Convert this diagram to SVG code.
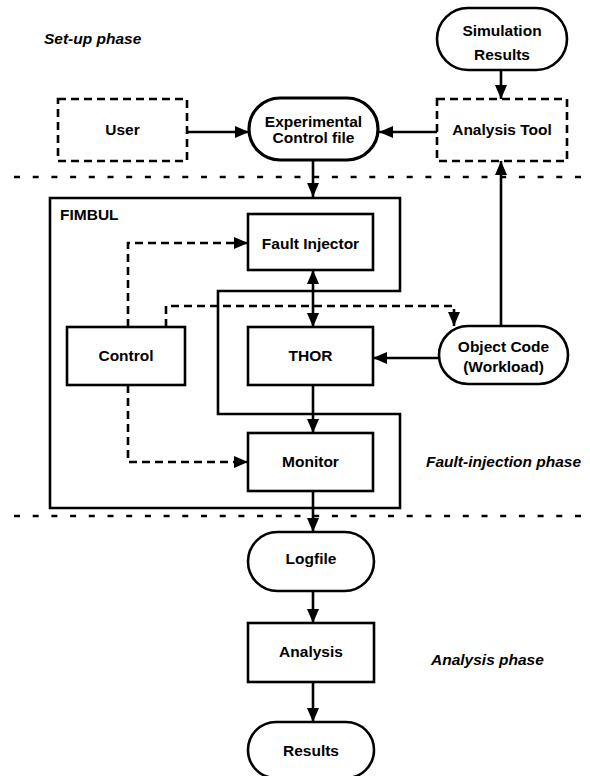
<svg xmlns="http://www.w3.org/2000/svg" width="590" height="776" viewBox="0 0 590 776">
<defs>
<marker id="ah" markerWidth="14" markerHeight="12" refX="14" refY="6" orient="auto-start-reverse" markerUnits="userSpaceOnUse">
<path d="M0,0 L14,6 L0,12 Z" fill="#000"/>
</marker>
</defs>
<style>
text{font-family:"Liberation Sans",Arial,sans-serif;font-weight:bold;font-size:15.5px;fill:#000}
.c{text-anchor:middle}
.it{font-style:italic}
.box{fill:#fff;stroke:#000;stroke-width:2.6}
.dbox{fill:#fff;stroke:#000;stroke-width:2.6;stroke-dasharray:8 5}
.ln{fill:none;stroke:#000;stroke-width:2.6}
.dl{fill:none;stroke:#000;stroke-width:2.6;stroke-dasharray:8 5}
.sep{fill:none;stroke:#000;stroke-width:2.4;stroke-dasharray:6 12.7}
</style>
<rect width="590" height="776" fill="#fff"/>

<g id="phases">
<text class="it" x="44" y="44">Set-up phase</text>
<text class="it" x="426" y="467">Fault-injection phase</text>
<text class="it" x="431" y="665">Analysis phase</text>
<line class="sep" x1="14" y1="177" x2="590" y2="177"/>
<line class="sep" x1="14" y1="516" x2="590" y2="516"/>
</g>

<g id="fimbul">
<path class="ln" d="M50,198 H400 V291 H218 V414 H400 V508 H50 Z"/>
<text x="60" y="220">FIMBUL</text>
</g>

<g id="connectors">
<line class="ln" x1="188" y1="132" x2="249" y2="132" marker-end="url(#ah)"/>
<line class="ln" x1="437" y1="132" x2="379" y2="132" marker-end="url(#ah)"/>
<line class="ln" x1="501" y1="70" x2="501" y2="99" marker-end="url(#ah)"/>
<line class="ln" x1="501" y1="326" x2="501" y2="161" marker-end="url(#ah)"/>
<line class="ln" x1="313" y1="160" x2="313" y2="197" marker-end="url(#ah)"/>
<line class="ln" x1="313" y1="270" x2="313" y2="327" marker-start="url(#ah)" marker-end="url(#ah)"/>
<line class="ln" x1="439" y1="358" x2="373" y2="358" marker-end="url(#ah)"/>
<line class="ln" x1="313" y1="385" x2="313" y2="433" marker-end="url(#ah)"/>
<line class="ln" x1="313" y1="491" x2="313" y2="532" marker-end="url(#ah)"/>
<line class="ln" x1="313" y1="591" x2="313" y2="623" marker-end="url(#ah)"/>
<line class="ln" x1="313" y1="682" x2="313" y2="722" marker-end="url(#ah)"/>
<path class="dl" d="M128,327 V243 H248" marker-end="url(#ah)"/>
<path class="dl" d="M166,327 V306 H454 V326" marker-end="url(#ah)"/>
<path class="dl" d="M128,385 V462 H248" marker-end="url(#ah)"/>
</g>

<g id="user">
<rect class="dbox" x="58" y="99" width="129" height="62"/>
<text class="c" x="122.5" y="135">User</text>
</g>

<g id="expcontrol">
<rect class="box" x="249" y="98" width="129" height="62" rx="31" style="stroke-width:3.2"/>
<text class="c" x="313.5" y="127">Experimental</text>
<text class="c" x="313.5" y="143">Control file</text>
</g>

<g id="simresults">
<rect class="box" x="437" y="8" width="130" height="62" rx="31"/>
<text class="c" x="502" y="36">Simulation</text>
<text class="c" x="502" y="60">Results</text>
</g>

<g id="analysistool">
<rect class="dbox" x="437" y="99" width="130" height="62"/>
<text class="c" x="502" y="135">Analysis Tool</text>
</g>

<g id="faultinjector">
<rect class="box" x="248" y="214" width="125" height="56"/>
<text class="c" x="310.5" y="249">Fault Injector</text>
</g>

<g id="control">
<rect class="box" x="67" y="327" width="118" height="58"/>
<text class="c" x="126" y="361">Control</text>
</g>

<g id="thor">
<rect class="box" x="248" y="327" width="125" height="58"/>
<text class="c" x="310.5" y="361">THOR</text>
</g>

<g id="objectcode">
<rect class="box" x="439" y="326" width="129" height="58" rx="29"/>
<text class="c" x="503.5" y="352">Object Code</text>
<text class="c" x="503.5" y="372">(Workload)</text>
</g>

<g id="monitor">
<rect class="box" x="248" y="433" width="125" height="58"/>
<text class="c" x="310.5" y="467">Monitor</text>
</g>

<g id="logfile">
<rect class="box" x="248" y="532" width="126" height="59" rx="29.5"/>
<text class="c" x="311" y="564">Logfile</text>
</g>

<g id="analysis">
<rect class="box" x="248" y="623" width="126" height="59"/>
<text class="c" x="311" y="657">Analysis</text>
</g>

<g id="results">
<rect class="box" x="248" y="722" width="126" height="56" rx="28"/>
<text class="c" x="311" y="756">Results</text>
</g>
</svg>
